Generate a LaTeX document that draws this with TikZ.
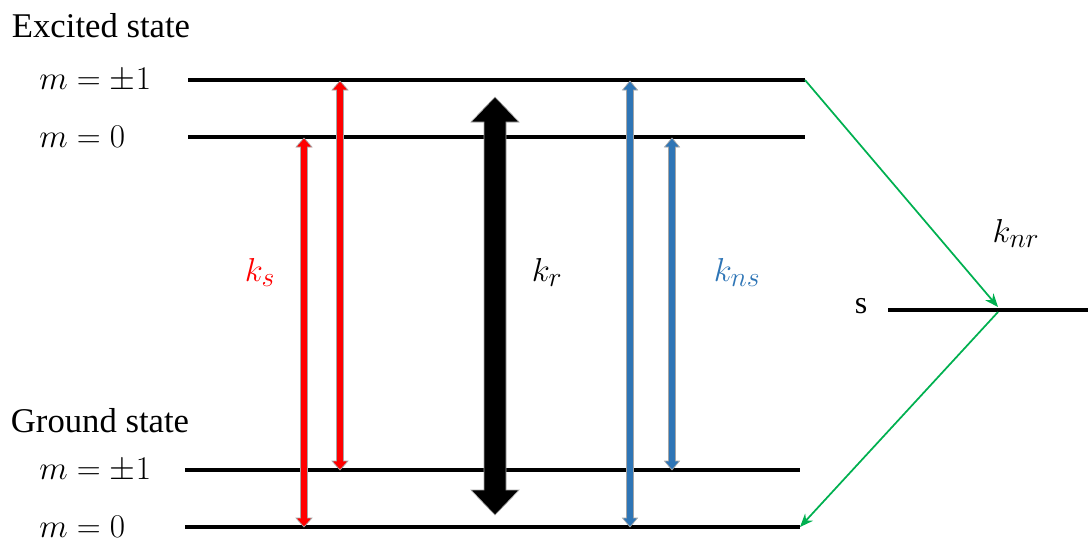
\documentclass[tikz,border=0pt]{standalone}
\usepackage{fontspec}
\setmainfont{Liberation Serif}
\usetikzlibrary{calc,arrows.meta}
\definecolor{myred}{RGB}{255,0,0}
\definecolor{myblue}{RGB}{46,117,182}
\definecolor{mygreen}{RGB}{0,176,80}
\newcommand{\dblarrow}[6]{%
\filldraw[blockarrow,fill=#6] (#1) -- ($(#1)+(#4,#5)$) -- ($(#1)+(#3,#5)$) -- ($(#2)+(#3,-#5)$) -- ($(#2)+(#4,-#5)$) -- (#2) -- ($(#2)+(-#4,-#5)$) -- ($(#2)+(-#3,-#5)$) -- ($(#1)+(-#3,#5)$) -- ($(#1)+(-#4,#5)$) -- cycle;}
\begin{document}
\begin{tikzpicture}[x=0.75pt,y=-0.75pt,
  level/.style={line width=2.4pt,black},
  blockarrow/.style={draw=gray!70,line width=0.5pt},
  lbl/.style={font=\fontsize{26}{30}\selectfont,inner sep=0pt},
  klbl/.style={font=\fontsize{32}{36}\selectfont,inner sep=0pt},
  mlbl/.style={font=\fontsize{26.5}{30}\selectfont,inner sep=0pt,anchor=west},
  gline/.style={draw=mygreen,line width=1.3pt,-{Stealth[length=10pt,width=8pt]}}]
\useasboundingbox (0,0) rectangle (1088,543);
% level end points
\coordinate (e1L) at (188,80);  \coordinate (e1R) at (805,80);
\coordinate (e0L) at (188,137); \coordinate (e0R) at (805,137);
\coordinate (g1L) at (185,470); \coordinate (g1R) at (800,470);
\coordinate (g0L) at (185,527); \coordinate (g0R) at (800,527);
\coordinate (sL) at (888,310);  \coordinate (sR) at (1088,310);
\draw[level] (e1L) -- (e1R);
\draw[level] (e0L) -- (e0R);
\draw[level] (g1L) -- (g1R);
\draw[level] (g0L) -- (g0R);
\draw[level] (sL) -- (sR);
% labels
\node[lbl] (exc) at (101,26) {Excited state};
\node[lbl] (gnd) at (100,421) {Ground state};
\node[mlbl] (me1) at (39,80) {$m=\pm1$};
\node[mlbl] (me0) at (39,137) {$m=0$};
\node[mlbl] (mg1) at (39,470) {$m=\pm1$};
\node[mlbl] (mg0) at (39,527) {$m=0$};
\node[lbl,font=\fontsize{24}{28}\selectfont] (s) at (861,306) {s};
\node[klbl,text=myred] (ks) at (260,272) {$k_s$};
\node[klbl] (kr) at (547,272) {$k_r$};
\node[klbl,text=myblue] (kns) at (737,272) {$k_{ns}$};
\node[klbl] (knr) at (1016,233) {$k_{nr}$};
% arrow end points
\coordinate (r1t) at (304,138); \coordinate (r1b) at (304,527);
\coordinate (r2t) at (340,81);  \coordinate (r2b) at (340,470);
\coordinate (bt) at (495,97);   \coordinate (bb) at (495,515);
\coordinate (b1t) at (630,81);  \coordinate (b1b) at (630,527);
\coordinate (b2t) at (672,138); \coordinate (b2b) at (672,470);
\dblarrow{r1t}{r1b}{3.5}{8}{9}{myred}
\dblarrow{r2t}{r2b}{3.5}{8}{9}{myred}
\dblarrow{bt}{bb}{11}{24}{25}{black}
\dblarrow{b1t}{b1b}{3.5}{7.5}{9}{myblue}
\dblarrow{b2t}{b2b}{3.5}{7.5}{9}{myblue}
% green transitions
\coordinate (sa) at (998,307);
\coordinate (sb) at (998,312);
\draw[gline] (e1R) -- (sa);
\draw[gline] (sb) -- (g0R);
\end{tikzpicture}
\end{document}
